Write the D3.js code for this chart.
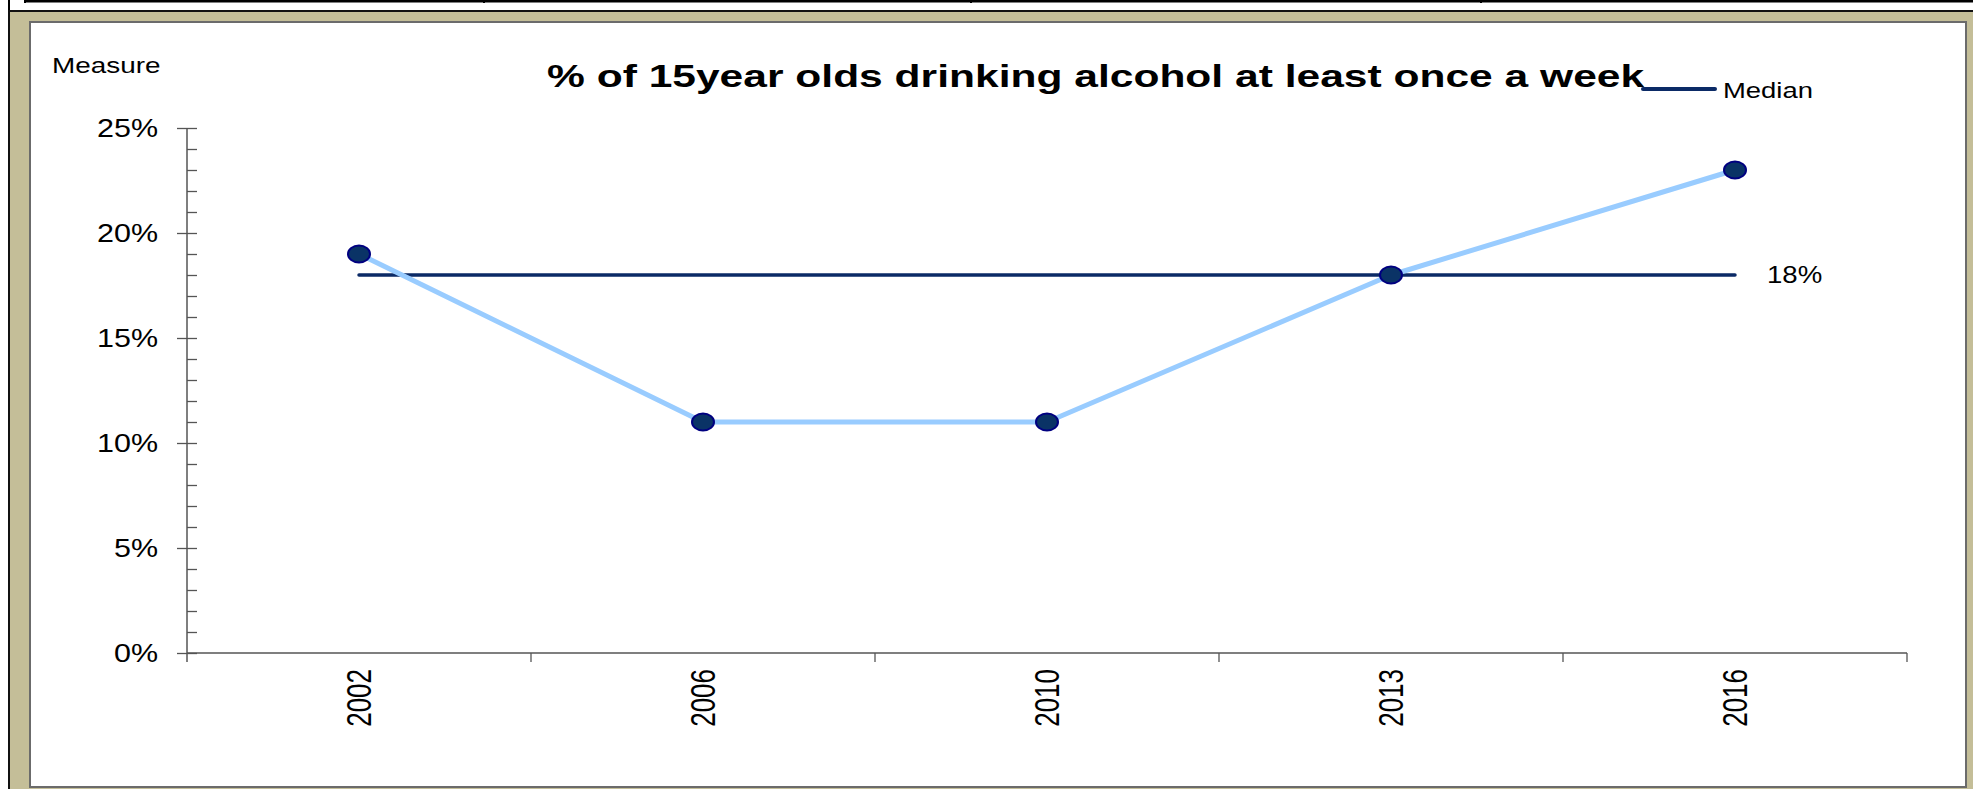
<!DOCTYPE html>
<html><head><meta charset="utf-8">
<script src="https://cdn.jsdelivr.net/npm/d3@7"></script>
<style>html,body{margin:0;padding:0;background:#fff;overflow:hidden}svg{display:block}text{font-family:Arial,"Liberation Sans",sans-serif}</style>
</head><body>
<svg id="c" width="1973" height="789"></svg>
<script>
const categories = ["2002", "2006", "2010", "2013", "2016"];
const values = [19, 11, 11, 18, 23];
const medianValue = 18;
const yTickValues = [0, 5, 10, 15, 20, 25];
const titleText = "% of 15year olds drinking alcohol at least once a week";
const yAxisTitle = "Measure";
const legendLabel = "Median";

const svg = d3.select("#c");

// top table strip
svg.append("rect").attr("x", 24).attr("y", 0).attr("width", 1949).attr("height", 2.5).attr("fill", "#000");
[9, 25, 484, 971, 1481].forEach(xx => {
  svg.append("rect").attr("x", xx - 1).attr("y", 0).attr("width", 2).attr("height", xx === 9 ? 11 : 3).attr("fill", "#000");
});

// frame
svg.append("rect").attr("x", 9).attr("y", 11).attr("width", 1980).attr("height", 800).attr("fill", "#C4BE98").attr("stroke", "#111").attr("stroke-width", 2);
svg.append("rect").attr("x", 30).attr("y", 22).attr("width", 1936).attr("height", 765).attr("fill", "#fff").attr("stroke", "#6b6b6b").attr("stroke-width", 2);

const x = d3.scaleBand().domain(categories).range([187, 1907]).padding(0);
const y = d3.scaleLinear().domain([0, 25]).range([653, 128]);
const cx = d => x(d) + x.bandwidth() / 2;

const axisColor = "#555";

// Y axis minor ticks (inside)
const gMinor = svg.append("g").attr("transform", "translate(187,0)")
  .call(d3.axisLeft(y).tickValues(d3.range(0, 26, 1)).tickSize(-10).tickFormat(""));
gMinor.select(".domain").remove();
gMinor.selectAll("line").attr("stroke", axisColor).attr("stroke-width", 1.3);
// Y major ticks (outside)
const gMajor = svg.append("g").attr("transform", "translate(187,0)")
  .call(d3.axisLeft(y).tickValues(yTickValues).tickSize(10).tickFormat(""));
gMajor.select(".domain").remove();
gMajor.selectAll("line").attr("stroke", axisColor).attr("stroke-width", 1.3);
// Y axis line
svg.append("line").attr("x1", 187).attr("x2", 187).attr("y1", y(25)).attr("y2", y(0) + 9)
  .attr("stroke", axisColor).attr("stroke-width", 1.5);
// Y labels
svg.append("g").selectAll("text").data(yTickValues).join("text")
  .attr("transform", d => `translate(158,${y(d)}) scale(1.22,1)`)
  .attr("text-anchor", "end").attr("dy", "0.35em")
  .attr("font-size", 25).attr("fill", "#000")
  .text(d => d + "%");

// X axis
svg.append("line").attr("x1", x.range()[0]).attr("x2", x.range()[1]).attr("y1", y(0)).attr("y2", y(0))
  .attr("stroke", axisColor).attr("stroke-width", 1.5);
const bounds = categories.map(c => x(c)).concat([x.range()[1]]);
svg.append("g").selectAll("line").data(bounds.slice(1)).join("line")
  .attr("x1", d => d).attr("x2", d => d).attr("y1", y(0)).attr("y2", y(0) + 9)
  .attr("stroke", axisColor).attr("stroke-width", 1.3);
svg.append("g").selectAll("text").data(categories).join("text")
  .attr("transform", d => `translate(${cx(d)},669) scale(1.32,1) rotate(-90)`)
  .attr("text-anchor", "end").attr("dy", "0.35em")
  .attr("font-size", 26).attr("fill", "#000")
  .text(d => d);

// median line
svg.append("line").attr("x1", cx(categories[0])).attr("x2", cx(categories[categories.length - 1]))
  .attr("y1", y(medianValue)).attr("y2", y(medianValue))
  .attr("stroke", "#0B2A66").attr("stroke-width", 3.5).attr("stroke-linecap", "round");
svg.append("text").attr("transform", `translate(1767,${y(medianValue)}) scale(1.2,1)`)
  .attr("dy", "0.35em").attr("font-size", 23).attr("fill", "#000").text(medianValue + "%");

// data line
const line = d3.line().x((d, i) => cx(categories[i])).y(d => y(d));
svg.append("path").datum(values).attr("d", line).attr("fill", "none")
  .attr("stroke", "#99CCFF").attr("stroke-width", 5).attr("stroke-linejoin", "round");
svg.append("g").selectAll("ellipse").data(values).join("ellipse")
  .attr("cx", (d, i) => cx(categories[i])).attr("cy", d => y(d))
  .attr("rx", 11).attr("ry", 8.5)
  .attr("fill", "#0A3366").attr("stroke", "#000080").attr("stroke-width", 2);

// title
svg.append("text").attr("transform", "translate(547,87) scale(1.33,1)")
  .attr("font-size", 32).attr("font-weight", "bold").attr("fill", "#000").text(titleText);
// y axis title
svg.append("text").attr("transform", "translate(52,73) scale(1.24,1)")
  .attr("font-size", 22.5).attr("fill", "#000").text(yAxisTitle);
// legend
svg.append("line").attr("x1", 1643).attr("x2", 1715).attr("y1", 89).attr("y2", 89)
  .attr("stroke", "#0B2A66").attr("stroke-width", 4).attr("stroke-linecap", "round");
svg.append("text").attr("transform", "translate(1723,98) scale(1.22,1)")
  .attr("font-size", 22.5).attr("fill", "#000").text(legendLabel);
</script>
</body></html>
